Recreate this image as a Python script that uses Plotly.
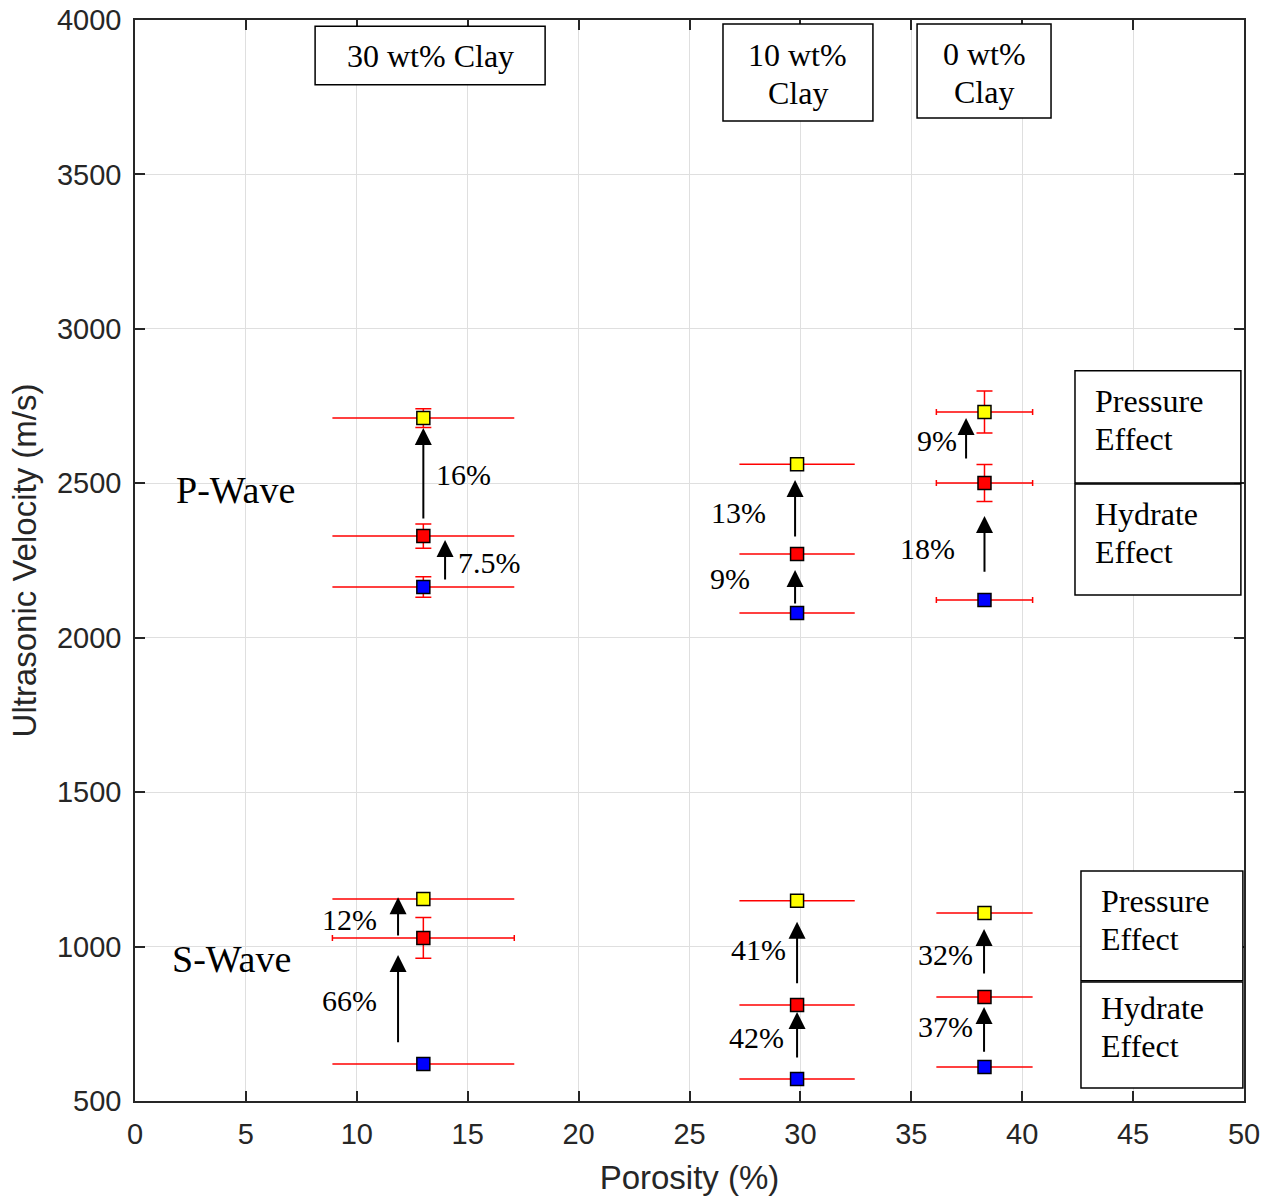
import plotly.graph_objects as go

# Porosity (%) of the three sand packs: 30, 10 and 0 wt% clay
porosity = [13.0, 29.85, 38.3]
porosity_err = [4.1, 2.6, 2.17]

# P-wave velocity (m/s): baseline, after hydrate formation, after pressure increase
vp_base = [2164, 2080, 2122]
vp_hydrate = [2329, 2271, 2501]
vp_pressure = [2711, 2562, 2731]
vp_base_err = [33, 0, 0]
vp_hydrate_err = [39, 0, 60]
vp_pressure_err = [30, 0, 68]

# S-wave velocity (m/s)
vs_base = [620, 571, 610]
vs_hydrate = [1028, 811, 837]
vs_pressure = [1154, 1148, 1109]
vs_base_err = [0, 0, 0]
vs_hydrate_err = [66, 0, 0]
vs_pressure_err = [0, 0, 0]

# Relative velocity changes shown next to the arrows
pct_labels = ["16%", "7.5%", "13%", "9%", "9%", "18%",
              "12%", "66%", "41%", "42%", "32%", "37%"]

clay_labels = [["30 wt% Clay"], ["10 wt%", "Clay"], ["0 wt%", "Clay"]]

AXIS_COLOR = "#262626"
SERIF = "Liberation Serif, Times New Roman, serif"
SANS = "Liberation Sans, Arial, Helvetica, sans-serif"

BLUE, RED, YELLOW = "#0000ff", "#ff0000", "#ffff00"

series = [
    # values, y errors, colour, porosity-bar end caps per point
    (vp_base, vp_base_err, BLUE, [False, False, True]),
    (vp_hydrate, vp_hydrate_err, RED, [False, False, True]),
    (vp_pressure, vp_pressure_err, YELLOW, [False, False, True]),
    (vs_base, vs_base_err, BLUE, [False, False, False]),
    (vs_hydrate, vs_hydrate_err, RED, [True, False, False]),
    (vs_pressure, vs_pressure_err, YELLOW, [False, False, False]),
]

fig = go.Figure()

# Error bars first (one trace per point so end caps can differ)
for vals, yerr, col, caps in series:
    for i in range(len(porosity)):
        fig.add_trace(go.Scatter(
            x=[porosity[i]], y=[vals[i]], mode="markers",
            marker=dict(size=1, color="rgba(0,0,0,0)"),
            error_x=dict(type="data", array=[porosity_err[i]],
                         color="#ff0000", thickness=1.5,
                         width=3 if caps[i] else 0),
            error_y=dict(type="data", array=[yerr[i]], color="#ff0000",
                         thickness=1.5, width=8, visible=yerr[i] > 0),
            showlegend=False, hoverinfo="skip",
        ))

# Square markers on top
for vals, yerr, col, caps in series:
    fig.add_trace(go.Scatter(
        x=porosity, y=vals, mode="markers",
        marker=dict(symbol="square", size=13, color=col,
                    line=dict(color="black", width=1.5)),
        showlegend=False, hoverinfo="x+y",
    ))

annotations = []
shapes = []

# Arrows: (x, tail y, head y)
arrows = [
    (13.0, 2381, 2679), (13.98, 2184, 2316),
    (29.76, 2323, 2511), (29.76, 2106, 2219),
    (37.47, 2575, 2711), (38.3, 2209, 2394),
    (11.86, 1031, 1160), (11.86, 685, 973),
    (29.85, 876, 1080), (29.85, 636, 788),
    (38.28, 908, 1057), (38.28, 655, 804),
]
for ax_x, y0, y1 in arrows:
    annotations.append(dict(
        x=ax_x, y=y1, ax=ax_x, ay=y0, xref="x", yref="y", axref="x", ayref="y",
        text="", showarrow=True, arrowhead=2, arrowsize=1.7, arrowwidth=2,
        arrowcolor="black", standoff=0, startstandoff=0,
    ))

# Percentage label positions
pct_pos = [
    (14.79, 2530), (16.0, 2242),
    (27.19, 2407), (26.83, 2193),
    (36.16, 2640), (35.75, 2290),
    (9.65, 1089), (9.69, 824),
    (28.09, 989), (28.04, 707),
    (36.52, 973), (36.52, 740),
]
for txt, (px, py) in zip(pct_labels, pct_pos):
    annotations.append(dict(x=px, y=py, xref="x", yref="y", text=txt,
                            showarrow=False,
                            font=dict(family=SERIF, size=30, color="black")))

annotations.append(dict(x=4.51, y=2478, xref="x", yref="y", text="P-Wave",
                        showarrow=False,
                        font=dict(family=SERIF, size=38, color="black")))
annotations.append(dict(x=4.33, y=960, xref="x", yref="y", text="S-Wave",
                        showarrow=False,
                        font=dict(family=SERIF, size=38, color="black")))

LINE_STEP = 123  # m/s between text lines inside the boxes

# Clay-content boxes along the top: x0, x1, y0, y1, centre of the text block
clay_boxes = [
    (8.12, 18.49, 3790, 3980, 3885),
    (26.51, 33.27, 3673, 3987, 3824),
    (35.26, 41.30, 3683, 3987, 3830),
]
for lines, (x0, x1, y0, y1, yc) in zip(clay_labels, clay_boxes):
    shapes.append(dict(type="rect", xref="x", yref="y", x0=x0, x1=x1, y0=y0,
                       y1=y1, line=dict(color="black", width=1.5),
                       fillcolor="white", layer="above"))
    top = yc + LINE_STEP * (len(lines) - 1) / 2
    for k, line in enumerate(lines):
        annotations.append(dict(x=(x0 + x1) / 2, y=top - k * LINE_STEP,
                                xref="x", yref="y", text=line,
                                showarrow=False,
                                font=dict(family=SERIF, size=32,
                                          color="black")))

# Effect boxes on the right
effect_boxes = [
    (["Pressure", "Effect"], 42.38, 49.86, 2501, 2864, 43.2, 2705),
    (["Hydrate", "Effect"], 42.38, 49.86, 2138, 2498, 43.2, 2339),
    (["Pressure", "Effect"], 42.65, 49.95, 889, 1245, 43.47, 1086),
    (["Hydrate", "Effect"], 42.65, 49.95, 542, 885, 43.47, 740),
]
for lines, x0, x1, y0, y1, tx, ty in effect_boxes:
    shapes.append(dict(type="rect", xref="x", yref="y", x0=x0, x1=x1, y0=y0,
                       y1=y1, line=dict(color="black", width=1.5),
                       fillcolor="white", layer="above"))
    top = ty + LINE_STEP * (len(lines) - 1) / 2
    for k, line in enumerate(lines):
        annotations.append(dict(x=tx, y=top - k * LINE_STEP, xref="x",
                                yref="y", text=line, showarrow=False,
                                xanchor="left",
                                font=dict(family=SERIF, size=32,
                                          color="black")))

axis_common = dict(
    showgrid=True, gridcolor="#dfdfdf", gridwidth=1,
    showline=True, linecolor=AXIS_COLOR, linewidth=1.5, mirror="ticks",
    ticks="inside", ticklen=10, tickwidth=1.5, tickcolor=AXIS_COLOR,
    tickfont=dict(family=SANS, size=29, color=AXIS_COLOR),
    ticklabelstandoff=6,
    zeroline=False, automargin=False,
)

fig.update_layout(
    width=1272, height=1196,
    margin=dict(l=135, r=28, t=20, b=95),
    paper_bgcolor="white", plot_bgcolor="white",
    xaxis=dict(range=[0, 50], tick0=0, dtick=5,
               title=dict(text="Porosity (%)", standoff=18,
                          font=dict(family=SANS, size=33, color=AXIS_COLOR)),
               **axis_common),
    yaxis=dict(range=[500, 4000], tick0=500, dtick=500,
               title=dict(text="Ultrasonic Velocity (m/s)", standoff=10,
                          font=dict(family=SANS, size=33, color=AXIS_COLOR)),
               **axis_common),
    annotations=annotations,
    shapes=shapes,
)

fig.write_html("out.html")
